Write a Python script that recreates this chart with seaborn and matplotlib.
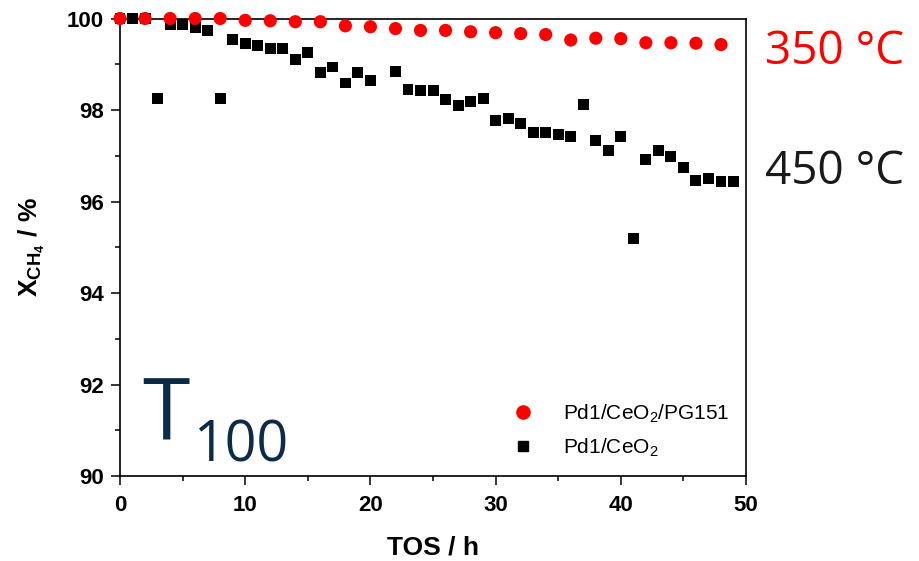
import matplotlib
matplotlib.use("Agg")
import matplotlib.pyplot as plt
from matplotlib.ticker import MultipleLocator
from matplotlib.lines import Line2D
import seaborn as sns
import pandas as pd

# ---- data ----
tos_red = [0, 2, 4, 6, 8, 10, 12, 14, 16, 18, 20, 22, 24,
           26, 28, 30, 32, 34, 36, 38, 40, 42, 44, 46, 48]
x_red = [100.0, 100.0, 100.0, 100.0, 100.0, 99.96, 99.95, 99.93, 99.93, 99.84,
         99.82, 99.78, 99.74, 99.74, 99.71, 99.69, 99.67, 99.65, 99.53, 99.57,
         99.56, 99.47, 99.47, 99.46, 99.43]

tos_black = [0, 1, 2, 3, 4, 5, 6, 7, 8, 9, 10, 11, 12, 13, 14, 15, 16, 17, 18, 19, 20,
             22, 23, 24, 25, 26, 27, 28, 29, 30, 31, 32, 33, 34, 35, 36, 37, 38, 39,
             40, 41, 42, 43, 44, 45, 46, 47, 48, 49]
x_black = [100.0, 100.0, 100.0, 98.26, 99.87, 99.87, 99.80, 99.74, 98.25, 99.55,
           99.45, 99.41, 99.34, 99.34, 99.10, 99.26, 98.83, 98.94, 98.59, 98.83, 98.64,
           98.84, 98.45, 98.42, 98.42, 98.22, 98.10, 98.18, 98.26, 97.78, 97.81, 97.70,
           97.51, 97.51, 97.46, 97.42, 98.13, 97.34, 97.12, 97.43, 95.19, 96.91, 97.11,
           96.99, 96.75, 96.46, 96.50, 96.44, 96.44]

label_red = "Pd1/CeO$_2$/PG151"
label_black = "Pd1/CeO$_2$"
temp_labels = ["350 °C", "450 °C"]
x_ticks = [0, 10, 20, 30, 40, 50]
y_ticks = [90, 92, 94, 96, 98, 100]

df_red = pd.DataFrame({"TOS": tos_red, "X": x_red})
df_black = pd.DataFrame({"TOS": tos_black, "X": x_black})

sns.set_theme(style="ticks")
plt.rcParams["font.family"] = ["Liberation Sans", "DejaVu Sans"]
plt.rcParams["mathtext.fontset"] = "custom"
plt.rcParams["mathtext.rm"] = "Liberation Sans"
plt.rcParams["mathtext.bf"] = "Liberation Sans:bold"
plt.rcParams["text.color"] = "black"
plt.rcParams["axes.labelcolor"] = "black"
plt.rcParams["xtick.color"] = "black"
plt.rcParams["ytick.color"] = "black"

fig = plt.figure(figsize=(9.19, 5.61), dpi=100)
ax = fig.add_axes([0.1306, 0.1515, 0.6812, 0.8155])

sns.scatterplot(data=df_black, x="TOS", y="X", ax=ax, marker="s", s=62,
                color="black", edgecolor="none", clip_on=False, zorder=3)
sns.scatterplot(data=df_red, x="TOS", y="X", ax=ax, marker="o", s=90,
                color="#ff0000", edgecolor="none", clip_on=False, zorder=4)

ax.set_xlim(0, 50)
ax.set_ylim(90, 100)
ax.set_xticks(x_ticks)
ax.set_yticks(y_ticks)
ax.xaxis.set_minor_locator(MultipleLocator(5))
ax.yaxis.set_minor_locator(MultipleLocator(1))

for sp in ax.spines.values():
    sp.set_visible(True)
    sp.set_linewidth(1.2)
    sp.set_color("black")

ax.tick_params(axis="both", which="major", direction="out", length=6.5, width=1.1,
               color="black", labelcolor="black", labelsize=16, pad=5)
ax.tick_params(axis="both", which="minor", direction="out", length=3.5, width=1.1,
               color="black")
ax.tick_params(axis="x", which="major", pad=7)
for lbl in ax.get_xticklabels() + ax.get_yticklabels():
    lbl.set_fontweight("bold")

ax.set_xlabel("TOS / h", fontsize=19, fontweight="bold", labelpad=14, color="black")
ax.set_ylabel(r"X$_{\mathbf{CH_4}}$ / %", fontsize=19, fontweight="bold", labelpad=14,
              color="black")

handles = [
    Line2D([], [], marker="o", color="#ff0000", linestyle="none", markersize=9.5),
    Line2D([], [], marker="s", color="black", linestyle="none", markersize=7.5),
]
leg = ax.legend(handles, [label_red, label_black], loc="lower right",
                bbox_to_anchor=(1.0, 0.0), frameon=False, fontsize=15,
                handletextpad=0.9, labelspacing=0.55, borderaxespad=0.4)
for t in leg.get_texts():
    t.set_color("black")

# big T100 annotation
ax.text(0.035, 0.08, "T", transform=ax.transAxes, fontsize=62, color="#0c2b48",
        family=["Open Sans", "DejaVu Sans"], va="baseline", ha="left")
ax.text(0.116, 0.031, "100", transform=ax.transAxes, fontsize=40, color="#0c2b48",
        family=["Open Sans", "DejaVu Sans"], va="baseline", ha="left")

# temperature labels outside right
fig.text(765 / 919, 1 - 52 / 561, temp_labels[0], fontsize=33, color="#ff0000",
         family=["Open Sans", "DejaVu Sans"], va="center", ha="left")
fig.text(765 / 919, 1 - 172 / 561, temp_labels[1], fontsize=33, color="#1a1a1a",
         family=["Open Sans", "DejaVu Sans"], va="center", ha="left")

fig.savefig("out.png", dpi=100)
